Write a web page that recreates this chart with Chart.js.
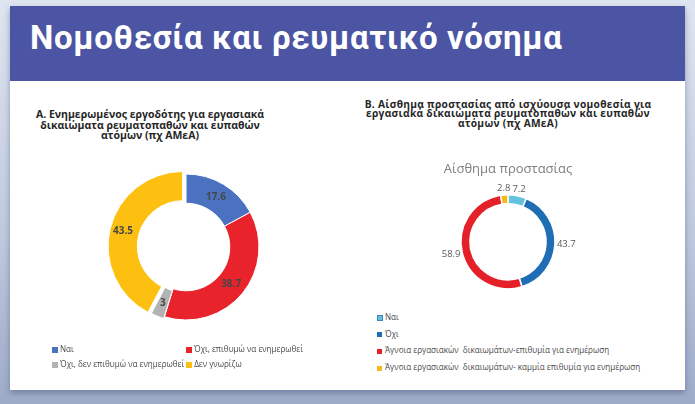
<!DOCTYPE html>
<html>
<head>
<meta charset="utf-8">
<script src="https://cdn.jsdelivr.net/npm/chart.js@4.4.1/dist/chart.umd.min.js"></script>
<style>
  html, body { margin: 0; padding: 0; }
  body {
    width: 695px; height: 404px; position: relative; overflow: hidden;
    background: linear-gradient(180deg, #dfe5f0 0%, #c1cbe0 55%, #9eabc8 100%);
    font-family: "Open Sans", "Noto Sans", sans-serif;
  }
  #card {
    position: absolute; left: 10px; top: 6px; width: 675px; height: 384px;
    background: #fff; box-shadow: 0 3px 6px rgba(60, 70, 110, 0.45);
  }
  #header {
    position: absolute; left: 0; top: 0; width: 675px; height: 75px;
    background: #4b55a3;
  }
  #header h1 {
    margin: 0; position: absolute; left: 20px; top: 12px;
    color: #fff; font: bold 33px Roboto, sans-serif; letter-spacing: 0.65px;
  }
  .ctitle {
    position: absolute; text-align: center; font-weight: bold; color: #262626;
  }
  #titleA { left: 20px; width: 260px; top: 109px; font-size: 10.5px; line-height: 10.5px; }
  #titleB { left: 350px; width: 316px; top: 100px; font-size: 10.2px; line-height: 9.4px; letter-spacing: 0.3px; }
  .wrap { position: absolute; }
  #wrapA { left: 86px; top: 147px; width: 200px; height: 200px; }
  #wrapB { left: 408px; top: 161px; width: 200px; height: 146px; }
  .legend { position: absolute; font-size: 8.1px; color: #4a4a4a; white-space: pre; }
  .legend .item { display: inline-block; }
  .legend .box { display: inline-block; width: 6px; height: 6px; margin-right: 2px; vertical-align: -0.5px; }
  #legendA { left: 52px; top: 343px; }
  #legendA .row { height: 15px; }
  #legendB { left: 377px; top: 311px; }
  #legendB .row { height: 16.7px; }
  #legendB .box { width: 5px; height: 5px; margin-right: 3px; }
  #legendB .row:first-child .box { width: 6px; height: 6px; box-sizing: border-box; border: 1px solid #3f86bd; margin-right: 2px; }
</style>
</head>
<body>
<div id="card">
  <div id="header"><h1>Νομοθεσία και ρευματικό νόσημα</h1></div>
</div>
<div class="ctitle" id="titleA">Α. Ενημερωμένος εργοδότης για εργασιακά<br>δικαιώματα ρευματοπαθών και ευπαθών<br>ατόμων (πχ ΑΜεΑ)</div>
<div class="ctitle" id="titleB">Β. Αίσθημα προστασίας από ισχύουσα νομοθεσία για<br>εργασιακά δικαιώματα ρευματοπαθών και ευπαθών<br>ατόμων (πχ ΑΜεΑ)</div>
<div class="wrap" id="wrapA"><canvas id="chartA"></canvas></div>
<div class="wrap" id="wrapB"><canvas id="chartB"></canvas></div>
<div class="legend" id="legendA"></div>
<div class="legend" id="legendB"></div>
<script>
// Α. ενημερωμένος εργοδότης
const labelsA = ['Ναι', 'Όχι, επιθυμώ να ενημερωθεί', 'Όχι, δεν επιθυμώ να ενημερωθεί', 'Δεν γνωρίζω'];
const valuesA = [17.6, 38.7, 3, 43.5];
const colorsA = ['#4a72c0', '#e8232b', '#b3b3b3', '#fdc010'];

// Β. αίσθημα προστασίας
const labelsB = ['Ναι', 'Όχι', 'Άγνοια εργασιακών  δικαιωμάτων-επιθυμία για ενημέρωση', 'Άγνοια εργασιακών  δικαιωμάτων- καμμία επιθυμία για ενημέρωση'];
const valuesB = [7.2, 43.7, 58.9, 2.8];
const colorsB = ['#62c2e0', '#1f6db4', '#e42028', '#f6b91a'];

// labels on the slices (inside or just outside the ring)
const sliceLabels = {
    id: 'sliceLabels',
    afterDatasetsDraw(chart, args, opts) {
        const ctx = chart.ctx;
        const values = chart.data.datasets[0].data;
        ctx.save();
        ctx.font = opts.font;
        ctx.fillStyle = opts.color;
        ctx.textAlign = 'center';
        ctx.textBaseline = 'middle';
        chart.getDatasetMeta(0).data.forEach((arc, i) => {
            const text = String(values[i]);
            let x, y;
            if (opts.outside) {
                const p = arc.getProps(['x', 'y', 'startAngle', 'endAngle', 'outerRadius']);
                const mid = (p.startAngle + p.endAngle) / 2;
                const dx = Math.cos(mid), dy = Math.sin(mid);
                const w = ctx.measureText(text).width;
                x = p.x + dx * (p.outerRadius + opts.gap) + dx * w / 2;
                y = p.y + dy * (p.outerRadius + opts.gap) + dy * opts.size / 2;
            } else {
                const pos = arc.tooltipPosition();
                x = pos.x; y = pos.y;
            }
            ctx.fillText(text, x, y);
        });
        ctx.restore();
    }
};

new Chart(document.getElementById('chartA'), {
    type: 'doughnut',
    data: {
        labels: labelsA,
        datasets: [{
            data: valuesA,
            backgroundColor: colorsA,
            borderColor: '#ffffff',
            borderWidth: 1,
            offset: [0, 0, 4, 13]
        }]
    },
    options: {
        responsive: true,
        maintainAspectRatio: false,
        animation: false,
        radius: 73,
        cutout: '60%',
        plugins: {
            legend: { display: false },
            tooltip: { enabled: false },
            sliceLabels: { font: 'bold 10px "Open Sans", sans-serif', color: '#474747' }
        }
    },
    plugins: [sliceLabels]
});

new Chart(document.getElementById('chartB'), {
    type: 'doughnut',
    data: {
        labels: labelsB,
        datasets: [{
            data: valuesB,
            backgroundColor: colorsB,
            borderColor: '#ffffff',
            borderWidth: 1.5
        }]
    },
    options: {
        responsive: true,
        maintainAspectRatio: false,
        animation: false,
        radius: 47,
        cutout: '81%',
        plugins: {
            legend: { display: false },
            tooltip: { enabled: false },
            title: {
                display: true,
                text: 'Αίσθημα προστασίας',
                color: '#7f7f7f',
                font: { family: '"Open Sans", sans-serif', size: 13, weight: 'normal' },
                padding: 0
            },
            sliceLabels: { outside: true, gap: 2, size: 9, font: '9.5px "Open Sans", sans-serif', color: '#595959' }
        }
    },
    plugins: [sliceLabels]
});

// html legends
function item(label, color, extra) {
    return '<span class="item"' + (extra || '') + '><span class="box" style="background:' + color + '"></span>' + label + '</span>';
}
document.getElementById('legendA').innerHTML =
    '<div class="row">' + item(labelsA[0], colorsA[0], ' style="width:134px"') + item(labelsA[1], colorsA[1]) + '</div>' +
    '<div class="row">' + item(labelsA[2], colorsA[2], ' style="margin-right:2px"') + item(labelsA[3], colorsA[3]) + '</div>';
document.getElementById('legendB').innerHTML = labelsB.map((l, i) =>
    '<div class="row">' + item(l, colorsB[i]) + '</div>').join('');
</script>
</body>
</html>
